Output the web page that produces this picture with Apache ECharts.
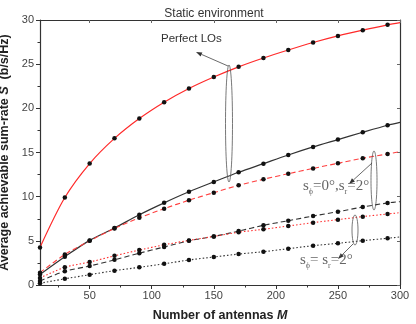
<!DOCTYPE html>
<html>
<head>
<meta charset="utf-8">
<script src="https://cdn.jsdelivr.net/npm/echarts@6/dist/echarts.min.js"></script>
<style>
  html, body { margin: 0; padding: 0; background: #fff; }
  #chart { width: 416px; height: 324px; }
</style>
</head>
<body>
<div id="chart"></div>
<script>
// number of antennas (last point only closes the curve at the axis, no marker)
const antennas = [10, 30, 50, 70, 90, 110, 130, 150, 170, 190, 210, 230, 250, 270, 290, 300]

// perfect LOs
const perfectRed = [4.25, 9.9, 13.75, 16.6, 18.85, 20.7, 22.25, 23.55, 24.7, 25.7, 26.6, 27.45, 28.2, 28.85, 29.45, 29.7]
const perfectBlack = [1.2, 3.2, 5.05, 6.45, 7.95, 9.3, 10.55, 11.67, 12.76, 13.74, 14.72, 15.63, 16.46, 17.29, 18.09, 18.42]
// s_phi = 0, s_r = 2
const dashedRed = [1.4, 3.45, 5.0, 6.4, 7.6, 8.64, 9.6, 10.45, 11.29, 11.97, 12.6, 13.2, 13.78, 14.35, 14.84, 15.1]
const dashedBlack = [0.45, 1.55, 2.15, 2.85, 3.6, 4.3, 5.0, 5.5, 6.1, 6.76, 7.28, 7.81, 8.3, 8.83, 9.29, 9.43]
// s_phi = s_r = 2
const dottedRed = [0.8, 2.0, 2.6, 3.3, 3.96, 4.55, 5.05, 5.5, 5.97, 6.31, 6.68, 7.06, 7.4, 7.74, 8.04, 8.19]
const dottedBlack = [0.2, 0.7, 1.17, 1.62, 2.0, 2.4, 2.83, 3.17, 3.5, 3.77, 4.11, 4.45, 4.72, 5.02, 5.29, 5.44]

const xMajor = [50, 100, 150, 200, 250, 300]
const xMinor = [25, 75, 125, 175, 225, 275]

const chart = echarts.init(document.getElementById('chart'))

const toData = vals => vals.map((v, i) => {
  const item = { value: [antennas[i], v] }
  if (i === antennas.length - 1) item.symbol = 'none'
  return item
})

const makeSeries = (vals, color, type, width) => ({
  type: 'line',
  data: toData(vals),
  smooth: 0.3,
  symbol: 'circle',
  symbolSize: 4.5,
  showSymbol: true,
  itemStyle: { color: '#111' },
  lineStyle: { color: color, width: width || 1.1, type: type },
  emphasis: { disabled: true },
  z: 3
})

const fontFamily = 'Liberation Sans, Arial, sans-serif'

chart.setOption({
  animation: false,
  title: {
    text: 'Static environment',
    left: 209,
    top: 3,
    textAlign: 'center',
    textStyle: { fontSize: 12, fontWeight: 'normal', color: '#333', fontFamily }
  },
  grid: { left: 40, right: 16, top: 20, bottom: 39, outerBoundsMode: 'none', containLabel: false },
  xAxis: [
    {
      type: 'value',
      min: 10,
      max: 300,
      position: 'bottom',
      name: 'Number of antennas {it|M}',
      nameLocation: 'middle',
      nameGap: 24,
      nameTextStyle: {
        fontSize: 12.5, fontWeight: 'bold', color: '#222', fontFamily,
        rich: { it: { fontSize: 12.5, fontWeight: 'bold', fontStyle: 'italic', color: '#222', fontFamily } }
      },
      axisLine: { lineStyle: { color: '#333', width: 1.2 } },
      axisTick: { show: true, inside: false, length: 4, customValues: xMajor, lineStyle: { color: '#333' } },
      axisLabel: { customValues: xMajor, color: '#444', fontSize: 11, fontFamily, margin: 5 },
      splitLine: { show: false }
    },
    {
      type: 'value',
      min: 10,
      max: 300,
      position: 'bottom',
      offset: 0,
      axisLine: { show: false },
      axisTick: { show: true, inside: false, length: 2.5, customValues: xMinor, lineStyle: { color: '#333' } },
      axisLabel: { show: false },
      splitLine: { show: false }
    },
    {
      type: 'value',
      min: 10,
      max: 300,
      position: 'top',
      axisLine: { lineStyle: { color: '#333', width: 1.2 } },
      axisTick: { show: true, inside: true, length: 3, customValues: xMajor, lineStyle: { color: '#666' } },
      axisLabel: { show: false },
      splitLine: { show: false }
    }
  ],
  yAxis: [
    {
      type: 'value',
      min: 0,
      max: 30,
      interval: 5,
      position: 'left',
      name: 'Average achievable sum-rate {it|S}  (b/s/Hz)',
      nameLocation: 'middle',
      nameGap: 22,
      nameTextStyle: {
        fontSize: 12.5, fontWeight: 'bold', color: '#222', fontFamily,
        rich: { it: { fontSize: 12.5, fontWeight: 'bold', fontStyle: 'italic', color: '#222', fontFamily } }
      },
      axisLine: { show: true, lineStyle: { color: '#333', width: 1.2 } },
      axisTick: { show: true, inside: false, length: 4, lineStyle: { color: '#333' } },
      minorTick: { show: true, splitNumber: 2, length: 2.5, lineStyle: { color: '#333' } },
      axisLabel: { color: '#444', fontSize: 11, fontFamily, margin: 6 },
      splitLine: { show: false },
      minorSplitLine: { show: false }
    },
    {
      type: 'value',
      min: 0,
      max: 30,
      interval: 5,
      position: 'right',
      axisLine: { show: true, lineStyle: { color: '#333', width: 1.2 } },
      axisTick: { show: true, inside: true, length: 3, lineStyle: { color: '#666' } },
      axisLabel: { show: false },
      splitLine: { show: false }
    }
  ],
  series: [
    makeSeries(perfectRed, '#ff2a2a', 'solid', 1.2),
    makeSeries(perfectBlack, '#333', 'solid', 1.2),
    makeSeries(dashedRed, '#ff4040', [5, 3]),
    makeSeries(dashedBlack, '#333', [5, 3]),
    makeSeries(dottedRed, '#ff3030', [1.5, 2]),
    makeSeries(dottedBlack, '#333', [1.5, 2])
  ]
})

// annotations: ellipses + arrows + labels
const arrow = (x1, y1, x2, y2) => {
  const ang = Math.atan2(y2 - y1, x2 - x1)
  const len = 6
  const w = 2.2
  const bx = x2 - len * Math.cos(ang)
  const by = y2 - len * Math.sin(ang)
  return [
    { type: 'line', shape: { x1, y1, x2: bx, y2: by }, style: { stroke: '#444', lineWidth: 0.8 }, z: 10 },
    {
      type: 'polygon',
      shape: { points: [[x2, y2], [bx + w * Math.sin(ang), by - w * Math.cos(ang)], [bx - w * Math.sin(ang), by + w * Math.cos(ang)]] },
      style: { fill: '#333' },
      z: 10
    }
  ]
}

const ellipse = (cx, cy, rx, ry) => ({
  type: 'ellipse',
  shape: { cx, cy, rx, ry },
  style: { fill: 'rgba(0,0,0,0)', stroke: '#555', lineWidth: 0.8 },
  z: 10
})

const serif = 'Liberation Serif, Times New Roman, serif'
const sigmaRich = {
  s: { fontSize: 15, fontFamily: serif, fill: '#666' },
  sub: { fontSize: 8, fontFamily: serif, fill: '#666', padding: [10, 0, 0, 0] }
}

chart.setOption({
  graphic: [
    ellipse(229, 123.5, 3.5, 58.5),
    ...arrow(228, 66, 196, 52),
    {
      type: 'text',
      left: 161,
      top: 33,
      style: { text: 'Perfect LOs', fontSize: 11.5, fontFamily, fill: '#333' },
      z: 10
    },
    ellipse(374, 180.5, 3, 29.5),
    ...arrow(372, 163, 349, 184),
    {
      type: 'text',
      left: 303,
      top: 179,
      style: { text: '{s|s}{sub|ϕ}{s|=0°,s}{sub|r}{s|=2°}', rich: sigmaRich },
      z: 10
    },
    ellipse(355, 230, 3, 15),
    ...arrow(353, 244, 338, 259),
    {
      type: 'text',
      left: 300,
      top: 253,
      style: { text: '{s|s}{sub|ϕ}{s|= s}{sub|r}{s|=2°}', rich: sigmaRich },
      z: 10
    }
  ]
})
</script>
</body>
</html>
